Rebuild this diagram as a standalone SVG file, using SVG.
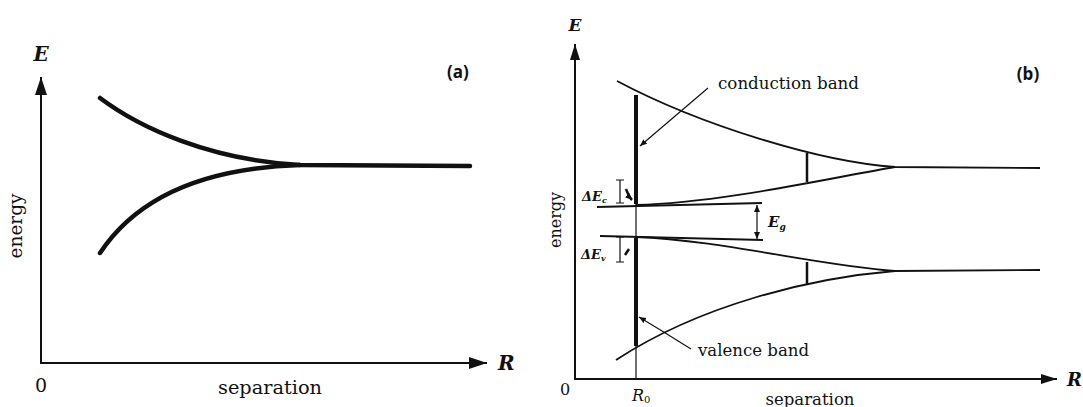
<svg xmlns="http://www.w3.org/2000/svg" width="1083" height="407" viewBox="0 0 1083 407">
<style>
  .serif{font-family:"DejaVu Serif","Liberation Serif",serif;fill:#111}
  .it{font-style:italic}
  .bi{font-style:italic;font-weight:bold}
  .lab{font-family:"Open Sans","Liberation Sans",sans-serif;font-weight:bold;fill:#111}
  .axis{stroke:#111;stroke-width:2;fill:none}
  .thickcurve{stroke:#111;stroke-width:4.5;fill:none;stroke-linecap:round}
  .band{stroke:#111;stroke-width:1.8;fill:none}
  .thin{stroke:#111;stroke-width:1.2;fill:none}
  .bar{stroke:#111;stroke-width:4;fill:none}
  .tick{stroke:#111;stroke-width:2.5;fill:none}
</style>
<defs>
  <marker id="arrA" markerUnits="userSpaceOnUse" markerWidth="20" markerHeight="14" refX="18" refY="6" orient="auto">
    <path d="M0,0 L18,6 L0,12 Z" fill="#111"/>
  </marker>
  <marker id="arrB" markerUnits="userSpaceOnUse" markerWidth="18" markerHeight="12" refX="16" refY="5" orient="auto">
    <path d="M0,0 L16,5 L0,10 Z" fill="#111"/>
  </marker>
  <marker id="arrS" markerUnits="userSpaceOnUse" markerWidth="8" markerHeight="8" refX="7" refY="3" orient="auto">
    <path d="M0,0 L7,3 L0,6 Z" fill="#111"/>
  </marker>
  <marker id="arrSs" markerUnits="userSpaceOnUse" markerWidth="8" markerHeight="8" refX="7" refY="3" orient="auto-start-reverse">
    <path d="M0,0 L7,3 L0,6 Z" fill="#111"/>
  </marker>
</defs>

<!-- Panel (a) -->
<g id="panel-a">
  <g id="a-axes">
    <line class="axis" x1="41" y1="363" x2="41" y2="77" marker-end="url(#arrA)"/>
    <line class="axis" x1="40" y1="363" x2="487" y2="363" marker-end="url(#arrA)"/>
  </g>
  <g id="a-curves">
    <path class="thickcurve" d="M100,98 C140,128 210,160 300,165 L470,166"/>
    <path class="thickcurve" d="M100,253 C135,200 200,168 300,165"/>
  </g>
  <text class="serif bi" x="41" y="61" font-size="20" text-anchor="middle">E</text>
  <text class="serif bi" x="498" y="370" font-size="20">R</text>
  <text class="serif" x="41" y="392" font-size="19" text-anchor="middle">0</text>
  <text class="serif" x="270" y="394" font-size="19" text-anchor="middle" textLength="104" lengthAdjust="spacingAndGlyphs">separation</text>
  <text class="serif" transform="translate(22,226) rotate(-90)" font-size="18" text-anchor="middle" textLength="65" lengthAdjust="spacingAndGlyphs">energy</text>
  <text class="lab" x="458" y="78" font-size="17" text-anchor="middle">(a)</text>
</g>

<!-- Panel (b) -->
<g id="panel-b">
  <g id="b-axes">
    <line class="axis" x1="575" y1="379" x2="575" y2="44" marker-end="url(#arrB)"/>
    <line class="axis" x1="574" y1="379" x2="1057" y2="379" marker-end="url(#arrB)"/>
  </g>
  <g id="conduction-band">
    <path class="band" d="M617,81 C700,125 820,162 895,167 L1040,168"/>
    <path class="band" d="M636,205 C720,203 830,178 895,167"/>
    <line class="band" x1="597" y1="207" x2="762" y2="203"/>
    <line class="tick" x1="807" y1="153" x2="807" y2="182"/>
  </g>
  <g id="valence-band">
    <path class="band" d="M636,237 C720,240 820,266 895,271 L1040,270"/>
    <path class="band" d="M616,360 C700,305 810,278 895,271"/>
    <line class="band" x1="600" y1="236" x2="763" y2="240"/>
    <line class="tick" x1="807" y1="262" x2="807" y2="284"/>
  </g>
  <g id="r0-line">
    <line class="thin" x1="636" y1="95" x2="636" y2="379"/>
    <line class="bar" x1="636" y1="95" x2="636" y2="204"/>
    <line class="bar" x1="636" y1="238" x2="636" y2="346"/>
  </g>
  <g id="connectors">
    <line class="thin" x1="708" y1="88" x2="640" y2="146" marker-end="url(#arrS)"/>
    <path class="thin" d="M691,349 Q664,332 639,317" marker-end="url(#arrS)"/>
    <line class="thin" x1="757" y1="205" x2="757" y2="239" marker-start="url(#arrSs)" marker-end="url(#arrS)"/>
    <path class="tick" d="M626,189 Q629,197 632,200" marker-end="url(#arrS)"/>
    <line class="tick" x1="625" y1="255" x2="629" y2="249"/>
  </g>
  <g id="delta-bars">
    <path class="thin" stroke-width="1.5" d="M620,180 V203 M616,180 H624 M616,203 H624"/>
    <path class="thin" stroke-width="1.5" d="M620,237 V262 M616,237 H624 M616,262 H624"/>
  </g>
  <text class="serif bi" x="575" y="31" font-size="17" text-anchor="middle">E</text>
  <text class="serif bi" x="1067" y="386" font-size="18">R</text>
  <text class="serif" x="565" y="395" font-size="16" text-anchor="middle">0</text>
  <text class="serif it" x="632" y="401" font-size="16">R<tspan font-size="10" dy="2" font-style="normal">0</tspan></text>
  <text class="serif" x="810" y="405" font-size="16.5" text-anchor="middle" textLength="89" lengthAdjust="spacingAndGlyphs">separation</text>
  <text class="serif" transform="translate(561,220) rotate(-90)" font-size="16" text-anchor="middle" textLength="56" lengthAdjust="spacingAndGlyphs">energy</text>
  <text class="serif" x="718" y="89" font-size="16" textLength="141" lengthAdjust="spacingAndGlyphs">conduction band</text>
  <text class="serif" x="698" y="356" font-size="16" textLength="111" lengthAdjust="spacingAndGlyphs">valence band</text>
  <text class="serif bi" x="768" y="227" font-size="15">E<tspan font-size="9" dy="3">g</tspan></text>
  <text class="serif bi" x="582" y="201" font-size="13">ΔE<tspan font-size="8" dy="2">c</tspan></text>
  <text class="serif bi" x="581" y="259" font-size="13">ΔE<tspan font-size="8" dy="2">v</tspan></text>
  <text class="lab" x="1028" y="80" font-size="17" text-anchor="middle">(b)</text>
</g>
</svg>
